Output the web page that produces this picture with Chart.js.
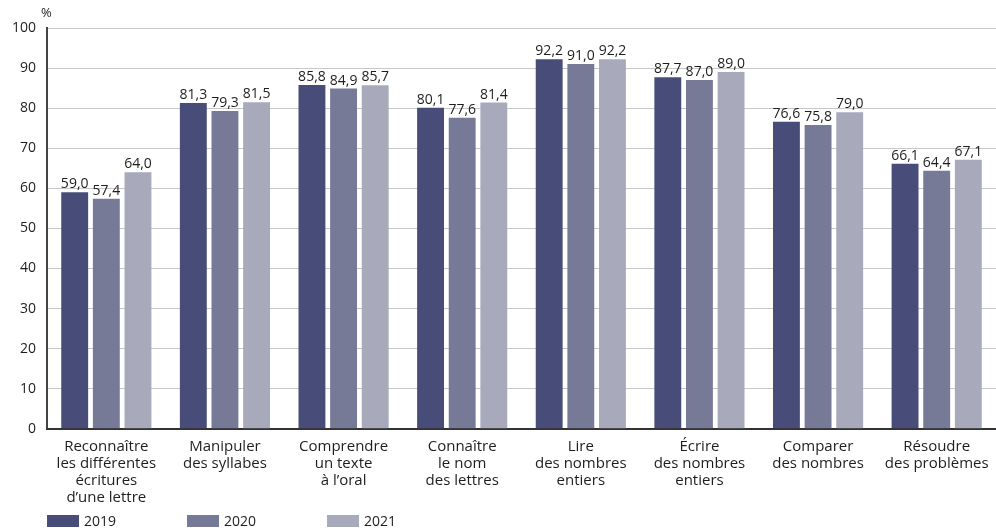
<!DOCTYPE html>
<html>
<head>
<meta charset="utf-8">
<script src="https://cdn.jsdelivr.net/npm/chart.js@4"></script>
<style>
  html, body { margin: 0; padding: 0; background: #fff; }
  #wrap { width: 996px; height: 530px; }
</style>
</head>
<body>
<div id="wrap"><canvas id="chart"></canvas></div>
<script>
const categories = [
    ['Reconnaître', 'les différentes', 'écritures', 'd\u2019une lettre'],
    ['Manipuler', 'des syllabes'],
    ['Comprendre', 'un texte', 'à l\u2019oral'],
    ['Connaître', 'le nom', 'des lettres'],
    ['Lire', 'des nombres', 'entiers'],
    ['Écrire', 'des nombres', 'entiers'],
    ['Comparer', 'des nombres'],
    ['Résoudre', 'des problèmes']
];
const years = ['2019', '2020', '2021'];
const values2019 = [59.0, 81.3, 85.8, 80.1, 92.2, 87.7, 76.6, 66.1];
const values2020 = [57.4, 79.3, 84.9, 77.6, 91.0, 87.0, 75.8, 64.4];
const values2021 = [64.0, 81.5, 85.7, 81.4, 92.2, 89.0, 79.0, 67.1];
const yTicks = [0, 10, 20, 30, 40, 50, 60, 70, 80, 90, 100];

const colors = ['#474d78', '#767a97', '#a8aabb'];
const FONT = '"Open Sans", sans-serif';
const TEXT = '#1e1e1e';

// value labels above each bar, French decimal comma
const barLabels = {
    id: 'barLabels',
    afterDatasetsDraw(chart) {
        const ctx = chart.ctx;
        ctx.save();
        ctx.font = '14px ' + FONT;
        ctx.fillStyle = TEXT;
        ctx.textAlign = 'center';
        ctx.textBaseline = 'bottom';
        chart.data.datasets.forEach((ds, i) => {
            chart.getDatasetMeta(i).data.forEach((bar, j) => {
                ctx.fillText(ds.data[j].toFixed(1).replace('.', ','), bar.x, bar.y - 1);
            });
        });
        ctx.restore();
    }
};

// "%" unit above the y axis + legend row at the bottom left
const extras = {
    id: 'extras',
    afterDraw(chart) {
        const ctx = chart.ctx;
        const area = chart.chartArea;
        ctx.save();
        ctx.font = '13px ' + FONT;
        ctx.fillStyle = TEXT;
        ctx.textAlign = 'left';
        ctx.textBaseline = 'bottom';
        ctx.fillText('%', area.left - 6, area.top - 8);

        ctx.font = '14px ' + FONT;
        ctx.textBaseline = 'middle';
        chart.data.datasets.forEach((ds, i) => {
            const x = area.left + i * 140;
            const y = chart.height - 9;
            ctx.fillStyle = ds.backgroundColor;
            ctx.fillRect(x, y - 6, 32, 12);
            ctx.fillStyle = TEXT;
            ctx.fillText(ds.label, x + 37, y + 1);
        });
        ctx.restore();
    }
};

new Chart(document.getElementById('chart'), {
    type: 'bar',
    data: {
        labels: categories,
        datasets: [
            { label: years[0], data: values2019, backgroundColor: colors[0] },
            { label: years[1], data: values2020, backgroundColor: colors[1] },
            { label: years[2], data: values2021, backgroundColor: colors[2] }
        ]
    },
    options: {
        responsive: true,
        maintainAspectRatio: false,
        animation: false,
        datasets: { bar: { categoryPercentage: 0.8, barPercentage: 0.85 } },
        layout: { padding: { top: 28, right: 0, left: 1, bottom: 22 } },
        plugins: {
            legend: { display: false },
            tooltip: { enabled: false }
        },
        scales: {
            y: {
                min: 0,
                max: 100,
                afterBuildTicks: axis => { axis.ticks = yTicks.map(v => ({ value: v })); },
                grid: { color: '#c8c8c8', drawTicks: false },
                border: { display: true, color: '#444', width: 2 },
                ticks: { color: TEXT, padding: 11, font: { family: FONT, size: 14 } }
            },
            x: {
                grid: { display: false },
                border: { display: true, color: '#333', width: 2 },
                ticks: { color: TEXT, padding: 2, maxRotation: 0, autoSkip: false, font: { family: FONT, size: 15, lineHeight: 1.12 } }
            }
        }
    },
    plugins: [barLabels, extras]
});
</script>
</body>
</html>
